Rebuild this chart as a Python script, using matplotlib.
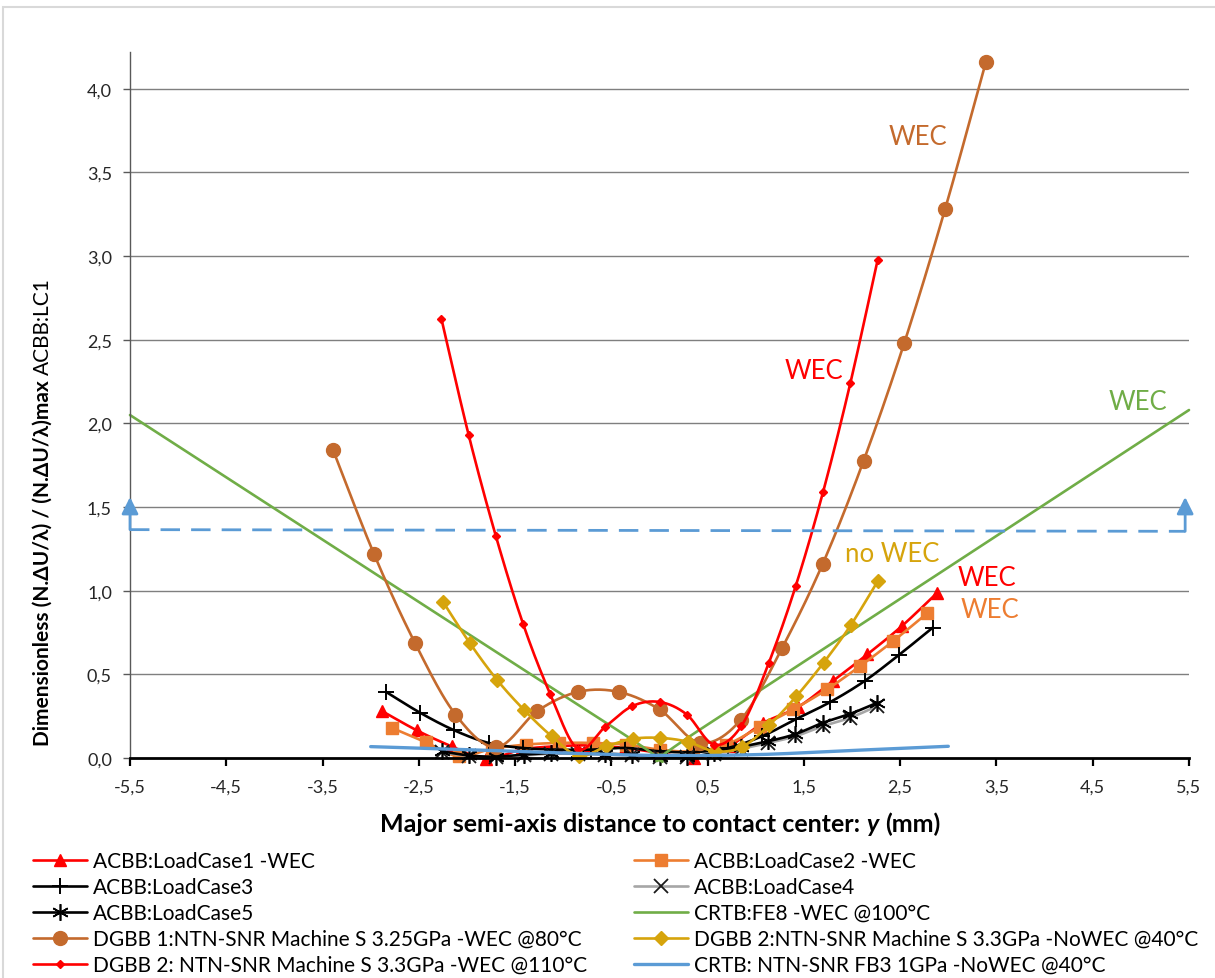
import numpy as np
import matplotlib
matplotlib.use("Agg")
import matplotlib.pyplot as plt
from matplotlib.patches import Rectangle

plt.rcParams['font.family'] = ['Lato', 'DejaVu Sans']

# ---------------- data ----------------
x_lc1 = [-2.88, -2.52, -2.16, -1.80, -1.44, -1.08, -0.72, -0.36, 0.0, 0.36, 0.72, 1.08, 1.44, 1.80, 2.16, 2.52, 2.88]
y_lc1 = [0.28, 0.165, 0.07, -0.005, 0.05, 0.07, 0.075, 0.06, 0.03, 0.0, 0.07, 0.21, 0.305, 0.46, 0.62, 0.79, 0.985]

x_lc2 = [-2.78, -2.43, -2.085, -1.74, -1.39, -1.04, -0.695, -0.35, 0.0, 0.35, 0.695, 1.04, 1.39, 1.74, 2.085, 2.43, 2.78]
y_lc2 = [0.18, 0.095, 0.01, 0.055, 0.08, 0.09, 0.09, 0.08, 0.05, 0.04, 0.08, 0.185, 0.29, 0.41, 0.55, 0.70, 0.865]

x_lc3 = [-2.84, -2.485, -2.13, -1.775, -1.42, -1.065, -0.71, -0.355, 0.0, 0.355, 0.71, 1.065, 1.42, 1.775, 2.13, 2.485, 2.84]
y_lc3 = [0.395, 0.27, 0.165, 0.09, 0.06, 0.05, 0.05, 0.06, 0.04, 0.035, 0.06, 0.13, 0.233, 0.335, 0.46, 0.615, 0.78]

x_lc45 = [-2.26, -1.9775, -1.695, -1.4125, -1.13, -0.8475, -0.565, -0.2825, 0.0,
          0.2825, 0.565, 0.8475, 1.13, 1.4125, 1.695, 1.9775, 2.26]
y_lc4 = [0.035, 0.012, 0.006, 0.015, 0.025, 0.025, 0.02, 0.015, 0.003, 0.003, 0.025, 0.055, 0.09, 0.13, 0.19, 0.24, 0.31]
y_lc5 = [0.04, 0.015, 0.008, 0.02, 0.03, 0.03, 0.025, 0.02, 0.005, 0.005, 0.03, 0.066, 0.10, 0.143, 0.21, 0.263, 0.33]

x_fe8 = [-5.5, -0.5, 0.0, 0.5, 5.5]
y_fe8 = [2.05, 0.19, 0.02, 0.2, 2.08]

x_dgbb1 = [-3.39, -2.966, -2.542, -2.119, -1.695, -1.271, -0.847, -0.424, 0.0,
           0.424, 0.847, 1.271, 1.695, 2.119, 2.542, 2.966, 3.39]
y_dgbb1 = [1.84, 1.22, 0.69, 0.26, 0.065, 0.28, 0.395, 0.395, 0.29, 0.09, 0.23, 0.655, 1.16, 1.775, 2.48, 3.28, 4.16]

x_dgbb2_no = [-2.25, -1.968, -1.685, -1.403, -1.12, -0.838, -0.555, -0.273, 0.01,
              0.293, 0.575, 0.858, 1.14, 1.423, 1.705, 1.988, 2.27]
y_dgbb2_no = [0.935, 0.685, 0.465, 0.285, 0.13, 0.012, 0.07, 0.115, 0.12, 0.097, 0.04, 0.066, 0.197, 0.37, 0.57, 0.795, 1.06]

x_dgbb2_wec = [-2.265, -1.982, -1.699, -1.416, -1.133, -0.849, -0.566, -0.283, 0.0,
               0.283, 0.566, 0.849, 1.133, 1.416, 1.699, 1.982, 2.265]
y_dgbb2_wec = [2.625, 1.93, 1.325, 0.80, 0.38, 0.055, 0.185, 0.31, 0.335, 0.26, 0.08, 0.19, 0.565, 1.03, 1.59, 2.24, 2.975]

x_fb3 = [-3.0, -2.0, -1.0, 0.0, 1.0, 2.0, 3.0]
y_fb3 = [0.068, 0.05, 0.03, 0.015, 0.02, 0.045, 0.07]

# threshold line with upward arrows at both ends
thr_x = [-5.5, 5.46]
thr_y = [1.365, 1.355]
thr_arrow_top = 1.56

x_ticks = [-5.5, -4.5, -3.5, -2.5, -1.5, -0.5, 0.5, 1.5, 2.5, 3.5, 4.5, 5.5]
x_ticklabels = ["-5,5", "-4,5", "-3,5", "-2,5", "-1,5", "-0,5", "0,5", "1,5", "2,5", "3,5", "4,5", "5,5"]
y_ticks = [0.0, 0.5, 1.0, 1.5, 2.0, 2.5, 3.0, 3.5, 4.0]
y_ticklabels = ["0,0", "0,5", "1,0", "1,5", "2,0", "2,5", "3,0", "3,5", "4,0"]

labels = [
    "ACBB:LoadCase1 -WEC",
    "ACBB:LoadCase2 -WEC",
    "ACBB:LoadCase3",
    "ACBB:LoadCase4",
    "ACBB:LoadCase5",
    "CRTB:FE8 -WEC @100°C",
    "DGBB 1:NTN-SNR Machine S 3.25GPa -WEC @80°C",
    "DGBB 2:NTN-SNR Machine S 3.3GPa -NoWEC @40°C",
    "DGBB 2: NTN-SNR Machine S 3.3GPa -WEC @110°C",
    "CRTB: NTN-SNR FB3 1GPa -NoWEC @40°C",
]

RED = '#FF0000'
ORANGE = '#ED7D31'
GREEN = '#70AD47'
BROWN = '#C46A2D'
GOLD = '#D6A40C'
BLUE = '#5B9BD5'
GRAY = '#A6A6A6'


def smooth(x, y, n=24):
    """Cardinal (Catmull-Rom) bezier smoothing through the points."""
    pts = np.column_stack([x, y]).astype(float)
    segs = []
    t = np.linspace(0, 1, n, endpoint=False)[:, None]
    for i in range(len(pts) - 1):
        p0 = pts[i - 1] if i > 0 else pts[i]
        p1 = pts[i]
        p2 = pts[i + 1]
        p3 = pts[i + 2] if i + 2 < len(pts) else pts[i + 1]
        c1 = p1 + (p2 - p0) / 6.0
        c2 = p2 - (p3 - p1) / 6.0
        seg = (1 - t) ** 3 * p1 + 3 * (1 - t) ** 2 * t * c1 + 3 * (1 - t) * t ** 2 * c2 + t ** 3 * p2
        segs.append(seg)
    segs.append(pts[-1:])
    out = np.vstack(segs)
    marks = list(range(0, n * (len(pts) - 1) + 1, n))
    return out[:, 0], out[:, 1], marks


W, H = 1215, 979
fig = plt.figure(figsize=(W / 100, H / 100), dpi=100)
ax = fig.add_axes([130 / W, 1 - 759 / H, (1189 - 130) / W, (759 - 53) / H])

# outer chart border
fig.patches.append(Rectangle((3 / W, -0.05), 1.2, 1 - 8 / H + 0.05, transform=fig.transFigure,
                             fill=False, edgecolor='#D9D9D9', lw=1.5, clip_on=False))

# horizontal gridlines
for yv in y_ticks[1:]:
    ax.axhline(yv, color='#7F7F7F', lw=1.0, zorder=0.5)


def series(x, y, color, marker=None, ms=8, mew=1.0, mfc=None, mec=None, lw=1.9):
    sx, sy, marks = smooth(x, y)
    kw = dict(color=color, lw=lw, clip_on=False, solid_capstyle='round')
    if marker is not None:
        kw.update(marker=marker, markevery=marks, ms=ms, mew=mew,
                  mfc=mfc if mfc else color, mec=mec if mec else color)
    ln, = ax.plot(sx, sy, **kw)
    return ln


h_lc1 = series(x_lc1, y_lc1, RED, '^', ms=9)
h_lc2 = series(x_lc2, y_lc2, ORANGE, 's', ms=8)
h_lc3 = series(x_lc3, y_lc3, 'black', '+', ms=12, mew=1.4)
h_lc4 = series(x_lc45, y_lc4, GRAY, 'x', ms=10, mew=1.3, mfc='#1A1A1A', mec='#1A1A1A')
h_lc5 = series(x_lc45, y_lc5, 'black', (6, 2, 0), ms=12, mew=1.2)
h_fe8 = series(x_fe8, y_fe8, GREEN, lw=1.9)
h_dgbb1 = series(x_dgbb1, y_dgbb1, BROWN, 'o', ms=10)
h_dgbb2_no = series(x_dgbb2_no, y_dgbb2_no, GOLD, 'D', ms=7)
h_dgbb2_wec = series(x_dgbb2_wec, y_dgbb2_wec, RED, 'D', ms=4.5)
h_fb3 = series(x_fb3, y_fb3, BLUE, lw=2.4)

# threshold
ax.plot(thr_x, thr_y, color=BLUE, lw=2.0, dashes=(7, 4), clip_on=False, zorder=3)
for xa, ya in zip(thr_x, thr_y):
    ax.annotate('', xy=(xa, thr_arrow_top), xytext=(xa, ya),
                arrowprops=dict(arrowstyle='-|>,head_length=1.0,head_width=0.5',
                                color=BLUE, lw=2.0, shrinkA=0, shrinkB=0),
                annotation_clip=False, zorder=3)

# in-plot labels
note_fs = 18.5
ax.text(2.685, 3.713, "WEC", color=BROWN, fontsize=note_fs, ha='center', va='center')
ax.text(1.60, 2.314, "WEC", color=RED, fontsize=note_fs, ha='center', va='center')
ax.text(4.97, 2.13, "WEC", color=GREEN, fontsize=note_fs, ha='center', va='center')
ax.text(2.42, 1.222, "no WEC", color=GOLD, fontsize=note_fs, ha='center', va='center')
ax.text(3.40, 1.076, "WEC", color=RED, fontsize=note_fs, ha='center', va='center')
ax.text(3.43, 0.89, "WEC", color=ORANGE, fontsize=note_fs, ha='center', va='center')

# axes styling
ax.set_xlim(-5.5, 5.5)
ax.set_ylim(0, 4.22)
ax.set_xticks(x_ticks)
ax.set_xticklabels(x_ticklabels)
ax.set_yticks(y_ticks)
ax.set_yticklabels(y_ticklabels)
for s in ('top', 'right'):
    ax.spines[s].set_visible(False)
ax.spines['left'].set_color('#595959')
ax.spines['left'].set_linewidth(1.0)
ax.spines['bottom'].set_color('black')
ax.spines['bottom'].set_linewidth(2.0)
ax.tick_params(axis='x', direction='out', length=6, width=1.6, color='black',
               labelsize=13, labelcolor='#262626', pad=9)
ax.tick_params(axis='y', direction='out', length=5, width=1.0, color='#595959',
               labelsize=13, labelcolor='#262626', pad=8)
ax.patch.set_visible(False)

renderer = fig.canvas.get_renderer()


def text_width(s, **kw):
    t = fig.text(0, 0, s, **kw)
    w = t.get_window_extent(renderer).width
    t.remove()
    return w


# x label: bold text with an italic variable name
xl_kw = dict(fontsize=18, fontweight='bold')
xl_parts = [("Major semi-axis distance to contact center:", 'normal'), ("y", 'italic'), ("(mm)", 'normal')]
space_w = text_width("a a", **xl_kw) - text_width("aa", **xl_kw)
widths = [text_width(s, fontstyle=st, **xl_kw) for s, st in xl_parts]
total = sum(widths) + space_w * (len(xl_parts) - 1)
xpos = 660 - total / 2
for (s, st), w in zip(xl_parts, widths):
    fig.text(xpos / W, 1 - 824 / H, s, fontstyle=st, ha='left', va='center', **xl_kw)
    xpos += w + space_w

# y label: bold quantity followed by regular reference name
ylab_x = 43 / W
yl_kw = dict(fontsize=15)
t1 = fig.text(ylab_x, 1 - 746 / H, "Dimensionless (N.ΔU/λ) / (N.ΔU/λ)max",
              rotation=90, ha='center', va='bottom', fontweight='bold', **yl_kw)
bb = t1.get_window_extent(renderer)
yspace = text_width("a a", **yl_kw) - text_width("aa", **yl_kw)
fig.text(ylab_x, (bb.y1 + yspace) / fig.bbox.height, "ACBB:LC1",
         rotation=90, ha='center', va='bottom', **yl_kw)

# legend: two columns
handles = [h_lc1, h_lc2, h_lc3, h_lc4, h_lc5, h_fe8, h_dgbb1, h_dgbb2_no, h_dgbb2_wec, h_fb3]
col1 = [0, 2, 4, 6, 8]
col2 = [1, 3, 5, 7, 9]
leg_kw = dict(loc='upper left', frameon=False, fontsize=15, handlelength=2.6,
              handletextpad=0.3, labelspacing=0.29, borderpad=0, borderaxespad=0,
              markerscale=1.0)
fig.legend([handles[i] for i in col1], [labels[i] for i in col1],
           bbox_to_anchor=(33 / W, 1 - 852 / H), **leg_kw)
fig.legend([handles[i] for i in col2], [labels[i] for i in col2],
           bbox_to_anchor=(634 / W, 1 - 852 / H), **leg_kw)

fig.savefig("out.png", dpi=100)
